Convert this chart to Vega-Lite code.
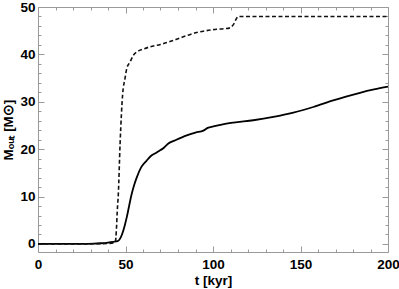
{
  "$schema": "https://vega.github.io/schema/vega-lite/v6.json",
  "width": 350,
  "height": 245,
  "autosize": {"type": "none"},
  "padding": {"left": 38, "top": 7, "right": 11, "bottom": 37},
  "config": {
    "view": {"stroke": "#9a9a9a", "strokeWidth": 1},
    "axis": {
      "domain": false,
      "grid": false,
      "tickColor": "#9a9a9a",
      "labelFlush": false,
      "labelFont": "Liberation Sans",
      "labelFontWeight": "bold",
      "labelFontSize": 13.5,
      "labelColor": "#000",
      "titleFont": "Liberation Sans",
      "titleFontWeight": "bold",
      "titleFontSize": 13.5,
      "titleColor": "#000"
    }
  },
  "datasets": {
    "curves": [
      {"t": 0, "m": 0, "series": "dashed"},
      {"t": 20, "m": 0, "series": "dashed"},
      {"t": 40, "m": 0.1, "series": "dashed"},
      {"t": 43, "m": 0.2, "series": "dashed"},
      {"t": 44.2, "m": 0.4, "series": "dashed"},
      {"t": 44.8, "m": 3, "series": "dashed"},
      {"t": 45.3, "m": 7, "series": "dashed"},
      {"t": 45.9, "m": 10.5, "series": "dashed"},
      {"t": 46.9, "m": 21.1, "series": "dashed"},
      {"t": 48.4, "m": 31.7, "series": "dashed"},
      {"t": 49.7, "m": 34.9, "series": "dashed"},
      {"t": 50.7, "m": 37, "series": "dashed"},
      {"t": 52.6, "m": 38.4, "series": "dashed"},
      {"t": 54.5, "m": 39.8, "series": "dashed"},
      {"t": 56.4, "m": 40.5, "series": "dashed"},
      {"t": 60, "m": 41.1, "series": "dashed"},
      {"t": 64, "m": 41.6, "series": "dashed"},
      {"t": 70, "m": 42.1, "series": "dashed"},
      {"t": 75.4, "m": 42.7, "series": "dashed"},
      {"t": 80, "m": 43.3, "series": "dashed"},
      {"t": 83, "m": 43.7, "series": "dashed"},
      {"t": 87, "m": 44.2, "series": "dashed"},
      {"t": 90.7, "m": 44.6, "series": "dashed"},
      {"t": 96, "m": 45, "series": "dashed"},
      {"t": 102.1, "m": 45.3, "series": "dashed"},
      {"t": 106, "m": 45.4, "series": "dashed"},
      {"t": 109.7, "m": 45.6, "series": "dashed"},
      {"t": 111, "m": 46, "series": "dashed"},
      {"t": 112, "m": 46.5, "series": "dashed"},
      {"t": 113.3, "m": 47.5, "series": "dashed"},
      {"t": 114.5, "m": 48, "series": "dashed"},
      {"t": 120, "m": 48, "series": "dashed"},
      {"t": 200, "m": 48, "series": "dashed"},
      {"t": 0, "m": 0, "series": "solid"},
      {"t": 25, "m": 0, "series": "solid"},
      {"t": 32, "m": 0.05, "series": "solid"},
      {"t": 36, "m": 0.15, "series": "solid"},
      {"t": 40, "m": 0.3, "series": "solid"},
      {"t": 43, "m": 0.45, "series": "solid"},
      {"t": 45.5, "m": 0.6, "series": "solid"},
      {"t": 46.5, "m": 0.9, "series": "solid"},
      {"t": 48, "m": 2, "series": "solid"},
      {"t": 49.5, "m": 3.8, "series": "solid"},
      {"t": 50.7, "m": 5.6, "series": "solid"},
      {"t": 53.5, "m": 10.5, "series": "solid"},
      {"t": 55, "m": 12.5, "series": "solid"},
      {"t": 56.4, "m": 14, "series": "solid"},
      {"t": 59, "m": 16.2, "series": "solid"},
      {"t": 62.1, "m": 17.6, "series": "solid"},
      {"t": 65, "m": 18.7, "series": "solid"},
      {"t": 67.8, "m": 19.3, "series": "solid"},
      {"t": 70, "m": 19.8, "series": "solid"},
      {"t": 71.6, "m": 20.2, "series": "solid"},
      {"t": 73, "m": 20.7, "series": "solid"},
      {"t": 74.5, "m": 21.2, "series": "solid"},
      {"t": 78, "m": 21.8, "series": "solid"},
      {"t": 85, "m": 22.9, "series": "solid"},
      {"t": 90, "m": 23.5, "series": "solid"},
      {"t": 94.5, "m": 23.9, "series": "solid"},
      {"t": 97, "m": 24.5, "series": "solid"},
      {"t": 100.2, "m": 24.8, "series": "solid"},
      {"t": 105, "m": 25.2, "series": "solid"},
      {"t": 111.6, "m": 25.6, "series": "solid"},
      {"t": 123, "m": 26.1, "series": "solid"},
      {"t": 134.5, "m": 26.8, "series": "solid"},
      {"t": 145.9, "m": 27.7, "series": "solid"},
      {"t": 157.3, "m": 28.9, "series": "solid"},
      {"t": 168.7, "m": 30.3, "series": "solid"},
      {"t": 176, "m": 31.1, "series": "solid"},
      {"t": 184, "m": 31.9, "series": "solid"},
      {"t": 192, "m": 32.6, "series": "solid"},
      {"t": 200, "m": 33.2, "series": "solid"}
    ]
  },
  "data": {"name": "curves"},
  "resolve": {"axis": {"x": "independent", "y": "independent"}},
  "layer": [
    {
      "transform": [{"filter": "datum.series === 'solid'"}],
      "mark": {"type": "line", "color": "#000", "strokeWidth": 1.8, "interpolate": "monotone"},
      "encoding": {
        "x": {"field": "t", "type": "quantitative", "scale": {"domain": [0, 200], "nice": false, "zero": false},
              "axis": {"orient": "bottom", "values": [0, 50, 100, 150, 200], "tickSize": -6, "labelPadding": 11, "title": "t [kyr]", "titlePadding": 3}},
        "y": {"field": "m", "type": "quantitative", "scale": {"domain": [-1.7, 50], "nice": false, "zero": false},
              "axis": {"orient": "left", "values": [0, 10, 20, 30, 40, 50], "tickSize": -6, "labelPadding": 9, "title": "Mₒᵤₜ [M⊙]", "titlePadding": 4}}
      }
    },
    {
      "transform": [{"filter": "datum.series === 'dashed'"}],
      "mark": {"type": "line", "color": "#111", "strokeWidth": 1.6, "strokeDash": [4, 2.5], "interpolate": "monotone"},
      "encoding": {
        "x": {"field": "t", "type": "quantitative",
              "axis": {"orient": "bottom", "values": [10, 20, 30, 40, 60, 70, 80, 90, 110, 120, 130, 140, 160, 170, 180, 190], "tickSize": -3, "labels": false, "title": null}},
        "y": {"field": "m", "type": "quantitative",
              "axis": {"orient": "left", "values": [2, 4, 6, 8, 12, 14, 16, 18, 22, 24, 26, 28, 32, 34, 36, 38, 42, 44, 46, 48], "tickSize": -3, "labels": false, "title": null}}
      }
    },
    {
      "transform": [{"filter": "datum.series === 'solid'"}],
      "mark": {"type": "line", "opacity": 0},
      "encoding": {
        "x": {"field": "t", "type": "quantitative",
              "axis": {"orient": "top", "values": [0, 50, 100, 150, 200], "tickSize": -6, "labels": false, "title": null}},
        "y": {"field": "m", "type": "quantitative",
              "axis": {"orient": "right", "values": [0, 10, 20, 30, 40, 50], "tickSize": -6, "labels": false, "title": null}}
      }
    },
    {
      "transform": [{"filter": "datum.series === 'solid'"}],
      "mark": {"type": "line", "opacity": 0},
      "encoding": {
        "x": {"field": "t", "type": "quantitative",
              "axis": {"orient": "top", "values": [10, 20, 30, 40, 60, 70, 80, 90, 110, 120, 130, 140, 160, 170, 180, 190], "tickSize": -3, "labels": false, "title": null}},
        "y": {"field": "m", "type": "quantitative",
              "axis": {"orient": "right", "values": [2, 4, 6, 8, 12, 14, 16, 18, 22, 24, 26, 28, 32, 34, 36, 38, 42, 44, 46, 48], "tickSize": -3, "labels": false, "title": null}}
      }
    }
  ]
}
